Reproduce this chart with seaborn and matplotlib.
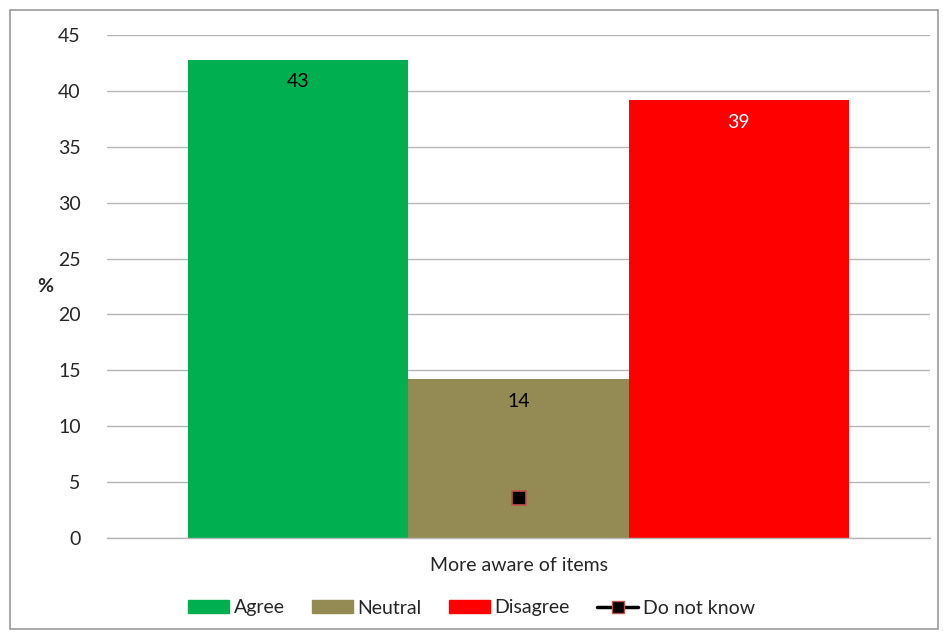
import matplotlib
matplotlib.use("Agg")
import matplotlib.pyplot as plt
from matplotlib.lines import Line2D
from matplotlib.patches import Patch, Rectangle
import seaborn as sns
import pandas as pd

# Survey responses (%)
category = "More aware of items"
responses = ["Agree", "Neutral", "Disagree"]
percent = [42.8, 14.2, 39.2]
dont_know = 3.6
colors = ["#00B050", "#948A54", "#FF0000"]
label_colors = ["black", "black", "white"]
yticks = [0, 5, 10, 15, 20, 25, 30, 35, 40, 45]

sns.set_theme(style="white")
plt.rcParams["font.family"] = ["Lato", "DejaVu Sans"]
FS = 14

df = pd.DataFrame({"item": [category] * len(responses),
                   "response": responses,
                   "pct": percent})

fig = plt.figure(figsize=(9.43, 6.37), dpi=100)
ax = fig.add_axes([107 / 943, 1 - 538 / 637, (930 - 107) / 943, (538 - 35) / 637])

sns.barplot(data=df, x="item", y="pct", hue="response", hue_order=responses,
            palette=colors, width=0.803, saturation=1, ax=ax, legend=False,
            edgecolor="none", linewidth=0, zorder=2)

# value labels inside the top of each bar
for patch, val, tc in zip(ax.patches, percent, label_colors):
    cx = patch.get_x() + patch.get_width() / 2
    ax.text(cx, val - 2.0, f"{val:.0f}", ha="center", va="center",
            fontsize=FS, color=tc, zorder=4)

# "Do not know" series
ax.plot([0], [dont_know], marker="s", markersize=10, color="black",
        markeredgecolor="#C0504D", markeredgewidth=1.2, linestyle="none", zorder=5)

ax.set_ylim(0, 45)
ax.set_xlim(-0.5, 0.5)
ax.set_yticks(yticks)
ax.set_yticklabels([str(t) for t in yticks], fontsize=FS)
ax.yaxis.grid(True, color="#B5B5B5", linewidth=1, zorder=0)
ax.set_axisbelow(True)
ax.tick_params(axis="y", length=0, pad=19)
ax.tick_params(axis="x", length=0, pad=14, labelsize=FS)
ax.set_xlabel("")
ax.set_ylabel("%", fontsize=FS, fontweight="bold", rotation=0, labelpad=0, va="center")
ax.yaxis.set_label_coords(-62 / 823, 0.5)
for s in ["top", "right", "left"]:
    ax.spines[s].set_visible(False)
ax.spines["bottom"].set_color("#B5B5B5")
ax.spines["bottom"].set_linewidth(1)

handles = [Patch(color=c, label=r) for c, r in zip(colors, responses)]
handles.append(Line2D([0], [0], color="black", linewidth=2.5, marker="s", markersize=9,
                      markerfacecolor="black", markeredgecolor="#C0504D",
                      label="Do not know"))
fig.legend(handles=handles, loc="center", bbox_to_anchor=(0.5, 1 - 608 / 637),
           ncol=4, frameon=False, fontsize=FS, handlelength=2.1, handleheight=0.6,
           handletextpad=0.25, columnspacing=1.4)

# chart border
fig.patches.append(Rectangle((10 / 943, 1 - 629 / 637), 928 / 943, 619 / 637,
                             transform=fig.transFigure, fill=False,
                             edgecolor="#9A9A9A", linewidth=1.2))

fig.savefig("out.png", dpi=100)
